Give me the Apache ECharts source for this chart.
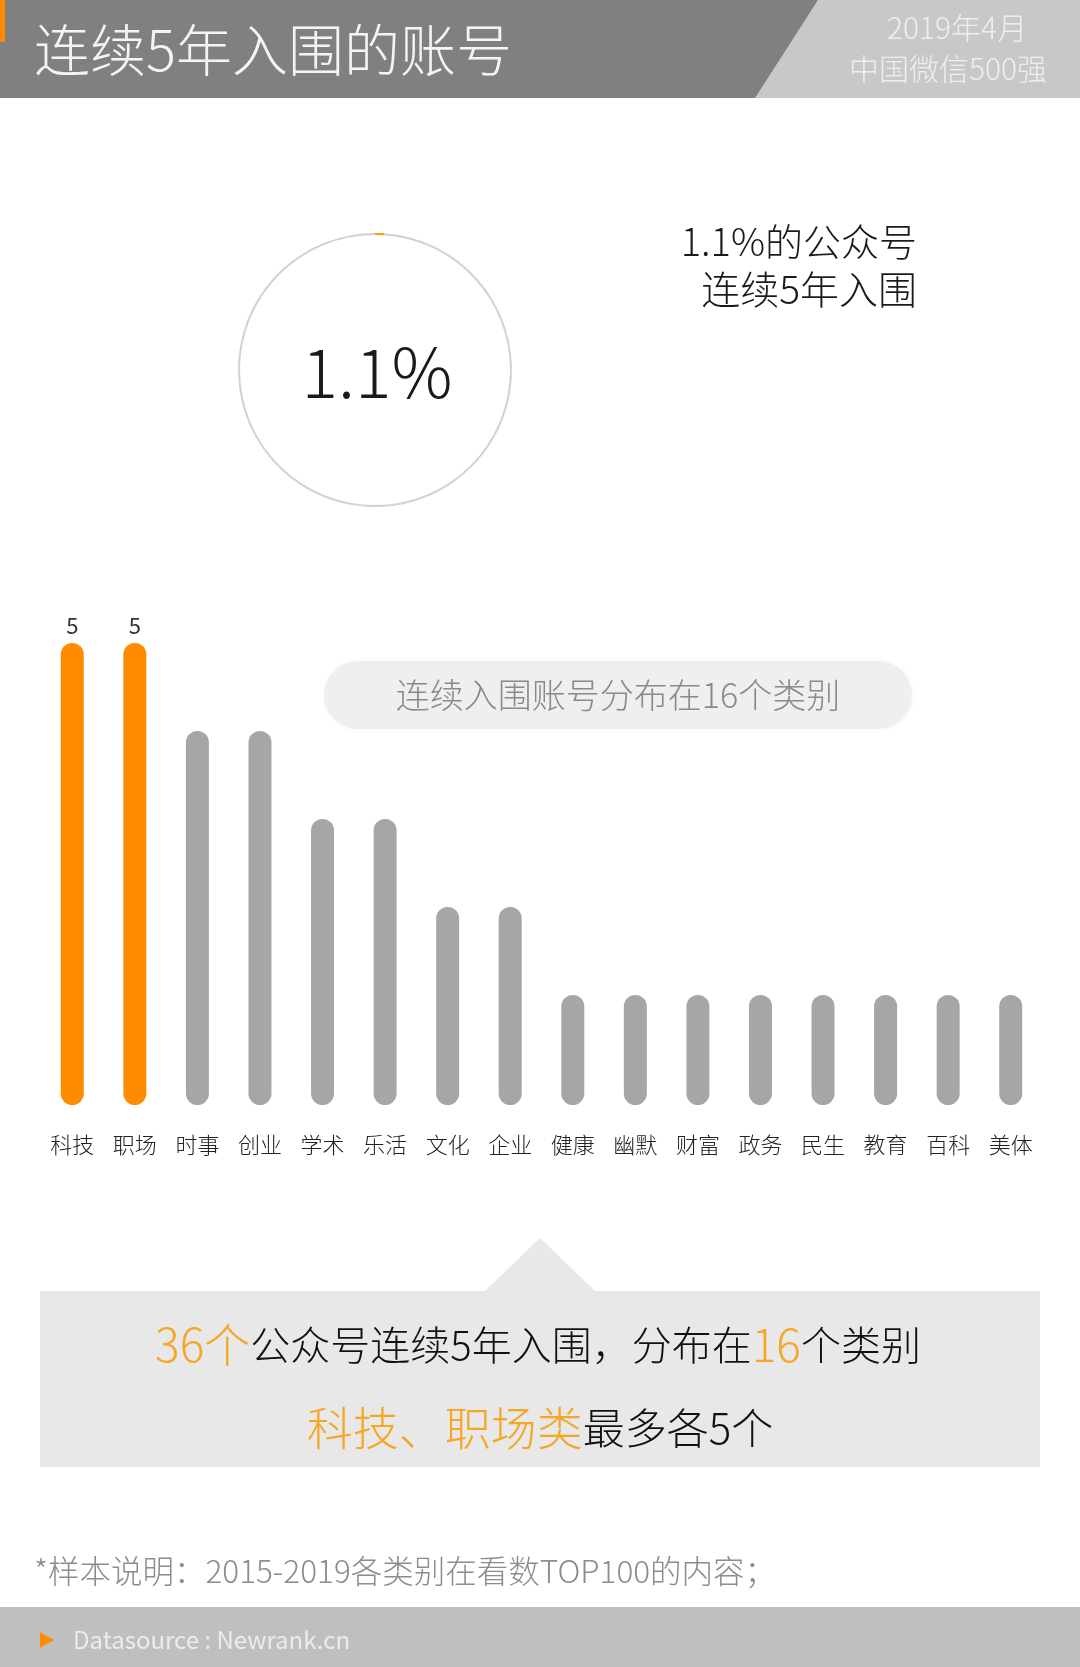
<!DOCTYPE html>
<html>
<head>
<meta charset="utf-8">
<script src="https://cdn.jsdelivr.net/npm/echarts@6/dist/echarts.min.js"></script>
<style>
html,body{margin:0;padding:0;background:#fff;}
#chart{width:1080px;height:1667px;}
</style>
</head>
<body>
<div id="chart"></div>
<script>
// ---- data ----
var categories = ['科技','职场','时事','创业','学术','乐活','文化','企业','健康','幽默','财富','政务','民生','教育','百科','美体'];
var accountCounts = [5,5,4,4,3,3,2,2,1,1,1,1,1,1,1,1];
var pieLabels = ['连续5年入围','其他'];
var pieValues = [1.1, 98.9];
var titleText = '连续5年入围的账号';
var dateText = ['2019年4月','中国微信500强'];

var FONT = "'Noto Sans CJK SC', 'Noto Sans', sans-serif";
var ORANGE = '#ff8c00';
var GRAY = '#a6a6a6';
var maxVal = Math.max.apply(null, accountCounts);

var barData = accountCounts.map(function(v){
  return {
    value: v,
    itemStyle: {color: v === maxVal ? ORANGE : GRAY},
    label: {show: v === maxVal}
  };
});

var chart = echarts.init(document.getElementById('chart'), null, {renderer:'canvas'});
chart.setOption({
  backgroundColor: '#ffffff',
  animation: false,
  grid: {left: 41, right: 38, top: 643, bottom: 562, containLabel: false},
  xAxis: {
    type: 'category',
    data: categories,
    axisLine: {show: false},
    axisTick: {show: false},
    axisLabel: {color: '#222', fontSize: 22, fontFamily: FONT, fontWeight: 300, margin: 29, interval: 0}
  },
  yAxis: {
    type: 'value',
    min: -0.25, max: 5,
    startValue: -0.25,
    show: false,
    splitLine: {show: false}
  },
  series: [
    {
      type: 'bar',
      data: barData,
      barWidth: 23,
      itemStyle: {borderRadius: 11.5},
      label: {position: 'top', color: '#333', fontSize: 22, fontFamily: FONT, distance: 6},
      silent: true
    },
    {
      type: 'pie',
      center: [375, 370],
      radius: [135, 137],
      startAngle: 90,
      clockwise: true,
      silent: true,
      label: {show: false},
      labelLine: {show: false},
      data: pieLabels.map(function(n,i){
        return {name: n, value: pieValues[i], itemStyle: {color: i === 0 ? '#ff9900' : '#d2d2d2'}};
      })
    }
  ],
  graphic: [
    // header
    {type:'rect', shape:{x:0,y:0,width:1080,height:98}, style:{fill:'#808080'}, silent:true},
    {type:'polygon', shape:{points:[[818,0],[1080,0],[1080,98],[755,98]]}, style:{fill:'#c8c8c8'}, silent:true},
    {type:'rect', shape:{x:0,y:0,width:5,height:42}, style:{fill:ORANGE}, silent:true},
    {type:'text', x:34, y:50, style:{text:titleText, fill:'#f4f4f4', font:'300 56px '+FONT, textVerticalAlign:'middle'}, silent:true},
    {type:'text', x:957, y:28, style:{text:dateText[0], fill:'#eeeeee', font:'300 30px '+FONT, textAlign:'center', textVerticalAlign:'middle'}, silent:true},
    {type:'text', x:948, y:69, style:{text:dateText[1], fill:'#eeeeee', font:'300 30px '+FONT, textAlign:'center', textVerticalAlign:'middle'}, silent:true},
    // circle text
    {type:'text', x:377, y:372, style:{text: pieValues[0] + '%', fill:'#1a1a1a', font:'300 68px '+FONT, textAlign:'center', textVerticalAlign:'middle'}, silent:true},
    {type:'text', x:917, y:242, style:{text: pieValues[0] + '%的公众号', fill:'#1a1a1a', font:'300 38px '+FONT, textAlign:'right', textVerticalAlign:'middle'}, silent:true},
    {type:'text', x:917, y:289, style:{text: '连续5年入围', fill:'#1a1a1a', font:'300 39px '+FONT, textAlign:'right', textVerticalAlign:'middle'}, silent:true},
    // pill
    {type:'rect', shape:{x:324,y:661,width:588,height:68,r:34}, style:{fill:'#efefef', shadowBlur:6, shadowColor:'rgba(0,0,0,0.04)'}, silent:true},
    {type:'text', x:618, y:695, style:{text:'连续入围账号分布在' + categories.length + '个类别', fill:'#8a8a8a', font:'300 34px '+FONT, textAlign:'center', textVerticalAlign:'middle'}, silent:true},
    // summary box
    {type:'polygon', shape:{points:[[484,1292],[540,1238],[596,1292]]}, style:{fill:'#e8e8e8'}, silent:true},
    {type:'rect', shape:{x:40,y:1291,width:1000,height:176}, style:{fill:'#e8e8e8'}, silent:true},
    {type:'text', x:538, y:1345, style:{
      text:'{o|36个}{b|公众号连续5年入围，分布在}{o|' + categories.length + '}{b|个类别}',
      textAlign:'center', textVerticalAlign:'middle',
      rich:{
        o:{fill:'#f5a623', font:'300 46px '+FONT},
        b:{fill:'#111', font:'300 40px '+FONT}
      }
    }, silent:true},
    {type:'text', x:540, y:1428, style:{
      text:'{o|科技、职场类}{b|最多各' + maxVal + '个}',
      textAlign:'center', textVerticalAlign:'middle',
      rich:{
        o:{fill:'#f5a623', font:'300 46px '+FONT},
        b:{fill:'#111', font:'300 42px '+FONT}
      }
    }, silent:true},
    // footnote
    {type:'text', x:34, y:1571, style:{text:'*样本说明：2015-2019各类别在看数TOP100的内容；', fill:'#8c8c8c', font:'300 31.5px '+FONT, textVerticalAlign:'middle'}, silent:true},
    // footer
    {type:'rect', shape:{x:0,y:1607,width:1080,height:60}, style:{fill:'#bfbfbf'}, silent:true},
    {type:'polygon', shape:{points:[[40,1632],[54,1640],[40,1648]]}, style:{fill:ORANGE}, silent:true},
    {type:'text', x:73, y:1640, style:{text:'Datasource : Newrank.cn', fill:'#ececec', font:'24px '+FONT, textVerticalAlign:'middle'}, silent:true}
  ]
});
</script>
</body>
</html>
